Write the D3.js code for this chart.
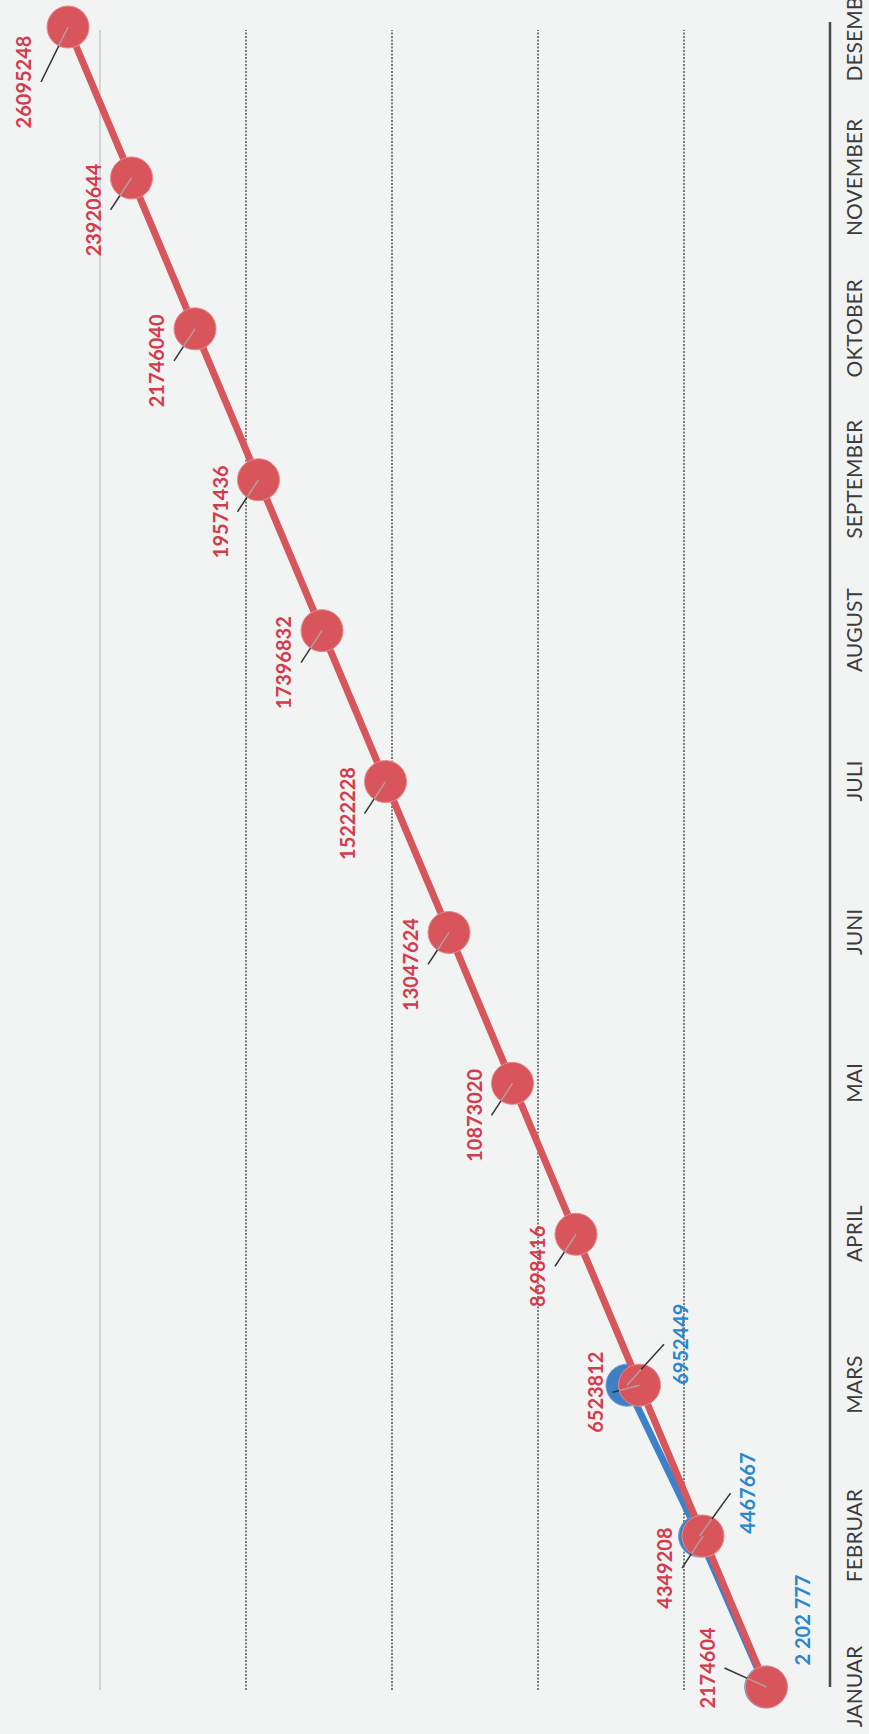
<!DOCTYPE html>
<html>
<head>
<meta charset="utf-8">
<script src="https://cdn.jsdelivr.net/npm/d3@7"></script>
<style>
  body { margin: 0; background: #f2f4f3; }
  svg { display: block; }
</style>
</head>
<body>
<div id="chart"></div>
<script>
const months = ["JANUAR", "FEBRUAR", "MARS", "APRIL", "MAI", "JUNI", "JULI", "AUGUST", "SEPTEMBER", "OKTOBER", "NOVEMBER", "DESEMBER"];
const budgetValues = [2174604, 4349208, 6523812, 8698416, 10873020, 13047624, 15222228, 17396832, 19571436, 21746040, 23920644, 26095248];
const actualValues = [2202777, 4467667, 6952449];
const actualLabels = ["2 202 777", "4467667", "6952449"];
const gridValues = [5000000, 10000000, 15000000, 20000000, 25000000];

function buildChart() {
  // the page shows a landscape chart turned a quarter to the left,
  // so everything is drawn landscape inside a rotated group
  const pageW = 869, pageH = 1734;

  const svg = d3.create("svg")
    .attr("width", pageW)
    .attr("height", pageH)
    .attr("viewBox", [0, 0, pageW, pageH]);

  svg.append("rect")
    .attr("width", pageW)
    .attr("height", pageH)
    .attr("fill", "#f2f4f3");

  const g = svg.append("g")
    .attr("transform", `translate(0,${pageH}) rotate(-90)`);

  const x = d3.scalePoint()
    .domain(months)
    .range([47, 1707]);

  const y = d3.scaleLinear()
    .domain([0, 25000000])
    .range([830, 100]);

  // gridlines
  g.append("g")
    .selectAll("line")
    .data(gridValues)
    .join("line")
    .attr("x1", 44)
    .attr("x2", 1704)
    .attr("y1", d => y(d))
    .attr("y2", d => y(d))
    .attr("stroke", d => d === 25000000 ? "#c8cbca" : "#2a2a2a")
    .attr("stroke-width", d => d === 25000000 ? 1.5 : 1.2)
    .attr("stroke-dasharray", d => d === 25000000 ? null : "2,1.5");

  // month axis
  const xAxis = g.append("g")
    .attr("transform", `translate(0,${y(0)})`)
    .call(d3.axisBottom(x).tickSize(0).tickSizeOuter(0).tickPadding(17));
  xAxis.select(".domain")
    .attr("stroke", "#4a4a4a")
    .attr("stroke-width", 2.5)
    .attr("d", "M47,0H1712");
  xAxis.selectAll("text")
    .attr("font-family", "Lato, sans-serif")
    .attr("font-size", 21)
    .attr("fill", "#3c3c3c");

  const line = d3.line()
    .x((d, i) => x(months[i]))
    .y(d => y(d));

  // label placement, in landscape pixels: [along months, along values]
  const redOffset = d3.range(months.length).map(() => [-32, -38]);
  redOffset[0] = [19, -59];
  redOffset[2] = [-7, -44];
  redOffset[11] = [-55, -44];
  const blueOffset = [[67, 37], [43, 48], [41, 54]];

  const red = budgetValues.map((v, i) => ({
    cx: x(months[i]), cy: y(v), text: String(v),
    lx: x(months[i]) + redOffset[i][0], ly: y(v) + redOffset[i][1], side: 1, leader: true
  }));
  const blue = actualValues.map((v, i) => ({
    cx: x(months[i]), cy: y(v), text: actualLabels[i],
    lx: x(months[i]) + blueOffset[i][0], ly: y(v) + blueOffset[i][1], side: -1, leader: i > 0
  }));

  const r = 21;

  function drawSeries(values, pts, lineColor, dotColor, dotStroke) {
    g.append("path")
      .datum(values)
      .attr("fill", "none")
      .attr("stroke", lineColor)
      .attr("stroke-width", 7)
      .attr("stroke-linejoin", "round")
      .attr("d", line);

    g.append("g")
      .selectAll("circle")
      .data(pts)
      .join("circle")
      .attr("cx", d => d.cx)
      .attr("cy", d => d.cy)
      .attr("r", r)
      .attr("fill", dotColor)
      .attr("stroke", dotStroke)
      .attr("stroke-width", 1);
  }

  drawSeries(actualValues, blue, "#3d82c8", "#3f7fc4", "#6c9fd6");
  drawSeries(budgetValues, red, "#d6565c", "#d8555b", "#e48a8e");

  // leader lines: dark outside the dot, pale where they cross it
  const leaders = red.concat(blue).filter(d => d.leader);
  leaders.forEach(d => {
    d.sx = d.lx;
    d.sy = d.ly + 17 * d.side;
    const len = Math.hypot(d.sx - d.cx, d.sy - d.cy);
    d.ex = d.cx + (d.sx - d.cx) * r / len;
    d.ey = d.cy + (d.sy - d.cy) * r / len;
  });

  g.append("g")
    .selectAll("line")
    .data(leaders)
    .join("line")
    .attr("x1", d => d.sx)
    .attr("y1", d => d.sy)
    .attr("x2", d => d.ex)
    .attr("y2", d => d.ey)
    .attr("stroke", "#333")
    .attr("stroke-width", 1.5);

  g.append("g")
    .selectAll("line")
    .data(leaders)
    .join("line")
    .attr("x1", d => d.ex)
    .attr("y1", d => d.ey)
    .attr("x2", d => d.cx)
    .attr("y2", d => d.cy)
    .attr("stroke", "#b59c9e")
    .attr("stroke-width", 1.5);

  // data labels
  g.append("g")
    .attr("font-family", "Lato, sans-serif")
    .attr("font-weight", "bold")
    .attr("font-size", 20)
    .attr("text-anchor", "middle")
    .selectAll("text")
    .data(red.concat(blue))
    .join("text")
    .attr("x", d => d.lx)
    .attr("y", d => d.ly)
    .attr("dy", "0.36em")
    .attr("fill", d => d.side === 1 ? "#d33c4e" : "#2b87cc")
    .text(d => d.text);

  d3.select("#chart").append(() => svg.node());
}

buildChart();
</script>
</body>
</html>
